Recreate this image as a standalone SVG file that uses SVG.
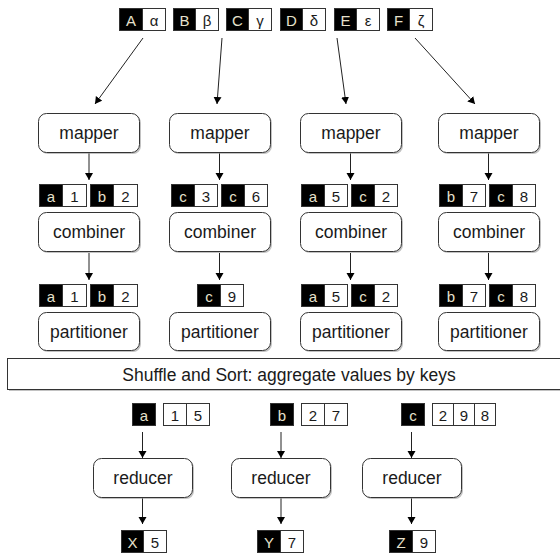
<svg xmlns="http://www.w3.org/2000/svg" width="560" height="554" viewBox="0 0 560 554">
<style>
text{font-family:"Liberation Sans",Arial,sans-serif;fill:#1a1a1a;text-anchor:middle;dominant-baseline:central}
.box{fill:#fff;stroke:#333;stroke-width:1}
.sh{fill:#999;opacity:0.6}
.lbl{font-size:17.5px}
.k{fill:#000;stroke:#333;stroke-width:1}
.v{fill:#fff;stroke:#333;stroke-width:1}
.kt{fill:#e6e0cc;font-size:15px}
.vt{font-size:15px}
.edge{stroke:#222;stroke-width:1;fill:none;marker-end:url(#ah)}
</style>
<defs>
<marker id="ah" markerUnits="userSpaceOnUse" markerWidth="8" markerHeight="9" refX="7" refY="4" orient="auto">
<path d="M0,0 L7,4 L0,8 Z" fill="#000"/>
</marker>
</defs>
<rect width="560" height="554" fill="#fff"/>

<g id="inputs">
<g id="inA"><rect class="k" x="119.5" y="8.5" width="23" height="22"/><rect class="v" x="142.5" y="8.5" width="23" height="22"/><text class="kt" x="131" y="20">A</text><text class="vt" x="154" y="20">α</text></g>
<g id="inB"><rect class="k" x="173.5" y="8.5" width="22" height="22"/><rect class="v" x="195.5" y="8.5" width="23" height="22"/><text class="kt" x="184.5" y="20">B</text><text class="vt" x="207" y="20">β</text></g>
<g id="inC"><rect class="k" x="226.5" y="8.5" width="22" height="22"/><rect class="v" x="248.5" y="8.5" width="23" height="22"/><text class="kt" x="237.5" y="20">C</text><text class="vt" x="260" y="20">γ</text></g>
<g id="inD"><rect class="k" x="280.5" y="8.5" width="22" height="22"/><rect class="v" x="302.5" y="8.5" width="23" height="22"/><text class="kt" x="291.5" y="20">D</text><text class="vt" x="314" y="20">δ</text></g>
<g id="inE"><rect class="k" x="334.5" y="8.5" width="22" height="22"/><rect class="v" x="356.5" y="8.5" width="23" height="22"/><text class="kt" x="345.5" y="20">E</text><text class="vt" x="368" y="20">ε</text></g>
<g id="inF"><rect class="k" x="387.5" y="8.5" width="22" height="22"/><rect class="v" x="409.5" y="8.5" width="23" height="22"/><text class="kt" x="398.5" y="20">F</text><text class="vt" x="421" y="20">ζ</text></g>
</g>

<g id="connectors">
<line class="edge" x1="143" y1="38" x2="95" y2="104"/>
<line class="edge" x1="222" y1="38" x2="217" y2="104"/>
<line class="edge" x1="337" y1="38" x2="346" y2="104"/>
<line class="edge" x1="415" y1="38" x2="475" y2="104"/>
<line class="edge" x1="89" y1="153" x2="89" y2="180"/>
<line class="edge" x1="219.5" y1="153" x2="219.5" y2="180"/>
<line class="edge" x1="350.5" y1="153" x2="350.5" y2="180"/>
<line class="edge" x1="488.5" y1="153" x2="488.5" y2="180"/>
<line class="edge" x1="89" y1="253" x2="89" y2="280"/>
<line class="edge" x1="219.5" y1="253" x2="219.5" y2="280"/>
<line class="edge" x1="350.5" y1="253" x2="350.5" y2="280"/>
<line class="edge" x1="488.5" y1="253" x2="488.5" y2="280"/>
<line class="edge" x1="142.5" y1="432" x2="142.5" y2="458"/>
<line class="edge" x1="281" y1="432" x2="281" y2="458"/>
<line class="edge" x1="411.5" y1="432" x2="411.5" y2="458"/>
<line class="edge" x1="142.5" y1="498" x2="142.5" y2="524"/>
<line class="edge" x1="281" y1="498" x2="281" y2="524"/>
<line class="edge" x1="411.5" y1="498" x2="411.5" y2="524"/>
</g>

<g id="mapper1"><rect class="sh" x="40" y="115" width="101" height="39" rx="8"/><rect class="box" x="38.5" y="113.5" width="101" height="39" rx="8"/><text class="lbl" x="89" y="133">mapper</text></g>
<g id="mapper2"><rect class="sh" x="171" y="115" width="101" height="39" rx="8"/><rect class="box" x="169.5" y="113.5" width="101" height="39" rx="8"/><text class="lbl" x="220" y="133">mapper</text></g>
<g id="mapper3"><rect class="sh" x="302" y="115" width="101" height="39" rx="8"/><rect class="box" x="300.5" y="113.5" width="101" height="39" rx="8"/><text class="lbl" x="351" y="133">mapper</text></g>
<g id="mapper4"><rect class="sh" x="440" y="115" width="101" height="39" rx="8"/><rect class="box" x="438.5" y="113.5" width="101" height="39" rx="8"/><text class="lbl" x="489" y="133">mapper</text></g>

<g id="mapout1">
<rect class="k" x="39.5" y="184.5" width="23" height="22"/><rect class="v" x="62.5" y="184.5" width="24" height="22"/><text class="kt" x="51" y="196">a</text><text class="vt" x="74.5" y="196">1</text>
<rect class="k" x="90.5" y="184.5" width="23" height="22"/><rect class="v" x="113.5" y="184.5" width="24" height="22"/><text class="kt" x="102" y="196">b</text><text class="vt" x="125.5" y="196">2</text>
</g>
<g id="mapout2">
<rect class="k" x="171.5" y="184.5" width="23" height="22"/><rect class="v" x="194.5" y="184.5" width="23" height="22"/><text class="kt" x="183" y="196">c</text><text class="vt" x="206" y="196">3</text>
<rect class="k" x="221.5" y="184.5" width="23" height="22"/><rect class="v" x="244.5" y="184.5" width="23" height="22"/><text class="kt" x="233" y="196">c</text><text class="vt" x="256" y="196">6</text>
</g>
<g id="mapout3">
<rect class="k" x="301.5" y="184.5" width="23" height="22"/><rect class="v" x="324.5" y="184.5" width="23" height="22"/><text class="kt" x="313" y="196">a</text><text class="vt" x="336" y="196">5</text>
<rect class="k" x="351.5" y="184.5" width="23" height="22"/><rect class="v" x="374.5" y="184.5" width="23" height="22"/><text class="kt" x="363" y="196">c</text><text class="vt" x="386" y="196">2</text>
</g>
<g id="mapout4">
<rect class="k" x="439.5" y="184.5" width="23" height="22"/><rect class="v" x="462.5" y="184.5" width="23" height="22"/><text class="kt" x="451" y="196">b</text><text class="vt" x="474" y="196">7</text>
<rect class="k" x="489.5" y="184.5" width="23" height="22"/><rect class="v" x="512.5" y="184.5" width="23" height="22"/><text class="kt" x="501" y="196">c</text><text class="vt" x="524" y="196">8</text>
</g>

<g id="combiner1"><rect class="sh" x="40" y="214" width="101" height="39" rx="8"/><rect class="box" x="38.5" y="212.5" width="101" height="39" rx="8"/><text class="lbl" x="89" y="232">combiner</text></g>
<g id="combiner2"><rect class="sh" x="171" y="214" width="101" height="39" rx="8"/><rect class="box" x="169.5" y="212.5" width="101" height="39" rx="8"/><text class="lbl" x="220" y="232">combiner</text></g>
<g id="combiner3"><rect class="sh" x="302" y="214" width="101" height="39" rx="8"/><rect class="box" x="300.5" y="212.5" width="101" height="39" rx="8"/><text class="lbl" x="351" y="232">combiner</text></g>
<g id="combiner4"><rect class="sh" x="440" y="214" width="101" height="39" rx="8"/><rect class="box" x="438.5" y="212.5" width="101" height="39" rx="8"/><text class="lbl" x="489" y="232">combiner</text></g>

<g id="combout1">
<rect class="k" x="39.5" y="284.5" width="23" height="22"/><rect class="v" x="62.5" y="284.5" width="24" height="22"/><text class="kt" x="51" y="296">a</text><text class="vt" x="74.5" y="296">1</text>
<rect class="k" x="90.5" y="284.5" width="23" height="22"/><rect class="v" x="113.5" y="284.5" width="24" height="22"/><text class="kt" x="102" y="296">b</text><text class="vt" x="125.5" y="296">2</text>
</g>
<g id="combout2">
<rect class="k" x="197.5" y="284.5" width="23" height="22"/><rect class="v" x="220.5" y="284.5" width="23" height="22"/><text class="kt" x="209" y="296">c</text><text class="vt" x="232" y="296">9</text>
</g>
<g id="combout3">
<rect class="k" x="301.5" y="284.5" width="23" height="22"/><rect class="v" x="324.5" y="284.5" width="23" height="22"/><text class="kt" x="313" y="296">a</text><text class="vt" x="336" y="296">5</text>
<rect class="k" x="351.5" y="284.5" width="23" height="22"/><rect class="v" x="374.5" y="284.5" width="23" height="22"/><text class="kt" x="363" y="296">c</text><text class="vt" x="386" y="296">2</text>
</g>
<g id="combout4">
<rect class="k" x="439.5" y="284.5" width="23" height="22"/><rect class="v" x="462.5" y="284.5" width="23" height="22"/><text class="kt" x="451" y="296">b</text><text class="vt" x="474" y="296">7</text>
<rect class="k" x="489.5" y="284.5" width="23" height="22"/><rect class="v" x="512.5" y="284.5" width="23" height="22"/><text class="kt" x="501" y="296">c</text><text class="vt" x="524" y="296">8</text>
</g>

<g id="partitioner1"><rect class="sh" x="40" y="314" width="101" height="38" rx="8"/><rect class="box" x="38.5" y="312.5" width="101" height="38" rx="8"/><text class="lbl" x="89" y="332">partitioner</text></g>
<g id="partitioner2"><rect class="sh" x="171" y="314" width="101" height="38" rx="8"/><rect class="box" x="169.5" y="312.5" width="101" height="38" rx="8"/><text class="lbl" x="220" y="332">partitioner</text></g>
<g id="partitioner3"><rect class="sh" x="302" y="314" width="101" height="38" rx="8"/><rect class="box" x="300.5" y="312.5" width="101" height="38" rx="8"/><text class="lbl" x="351" y="332">partitioner</text></g>
<g id="partitioner4"><rect class="sh" x="440" y="314" width="101" height="38" rx="8"/><rect class="box" x="438.5" y="312.5" width="101" height="38" rx="8"/><text class="lbl" x="489" y="332">partitioner</text></g>

<g id="shuffle"><rect class="sh" x="9" y="360" width="560" height="31"/><rect class="box" x="7.5" y="358.5" width="560" height="31" stroke="#555"/><text class="lbl" x="289" y="375">Shuffle and Sort: aggregate values by keys</text></g>

<g id="redin1">
<rect class="k" x="132.5" y="403.5" width="23" height="22"/><text class="kt" x="144" y="415">a</text>
<rect class="v" x="163.5" y="403.5" width="23" height="22"/><rect class="v" x="186.5" y="403.5" width="23" height="22"/><text class="vt" x="175" y="415">1</text><text class="vt" x="198" y="415">5</text>
</g>
<g id="redin2">
<rect class="k" x="270.5" y="403.5" width="23" height="22"/><text class="kt" x="282" y="415">b</text>
<rect class="v" x="301.5" y="403.5" width="23" height="22"/><rect class="v" x="324.5" y="403.5" width="23" height="22"/><text class="vt" x="313" y="415">2</text><text class="vt" x="336" y="415">7</text>
</g>
<g id="redin3">
<rect class="k" x="401.5" y="403.5" width="23" height="22"/><text class="kt" x="413" y="415">c</text>
<rect class="v" x="432.5" y="403.5" width="21" height="22"/><rect class="v" x="453.5" y="403.5" width="21" height="22"/><rect class="v" x="474.5" y="403.5" width="21" height="22"/><text class="vt" x="443" y="415">2</text><text class="vt" x="464" y="415">9</text><text class="vt" x="485" y="415">8</text>
</g>

<g id="reducer1"><rect class="sh" x="95" y="460" width="99" height="39" rx="8"/><rect class="box" x="93.5" y="458.5" width="99" height="39" rx="8"/><text class="lbl" x="143" y="478">reducer</text></g>
<g id="reducer2"><rect class="sh" x="233" y="460" width="99" height="39" rx="8"/><rect class="box" x="231.5" y="458.5" width="99" height="39" rx="8"/><text class="lbl" x="281" y="478">reducer</text></g>
<g id="reducer3"><rect class="sh" x="364" y="460" width="99" height="39" rx="8"/><rect class="box" x="362.5" y="458.5" width="99" height="39" rx="8"/><text class="lbl" x="412" y="478">reducer</text></g>

<g id="out1"><rect class="k" x="121.5" y="530.5" width="22" height="22"/><rect class="v" x="143.5" y="530.5" width="23" height="22"/><text class="kt" x="132.5" y="542">X</text><text class="vt" x="155" y="542">5</text></g>
<g id="out2"><rect class="k" x="257.5" y="530.5" width="23" height="22"/><rect class="v" x="280.5" y="530.5" width="23" height="22"/><text class="kt" x="269" y="542">Y</text><text class="vt" x="292" y="542">7</text></g>
<g id="out3"><rect class="k" x="389.5" y="530.5" width="23" height="22"/><rect class="v" x="412.5" y="530.5" width="23" height="22"/><text class="kt" x="401" y="542">Z</text><text class="vt" x="424" y="542">9</text></g>
</svg>
